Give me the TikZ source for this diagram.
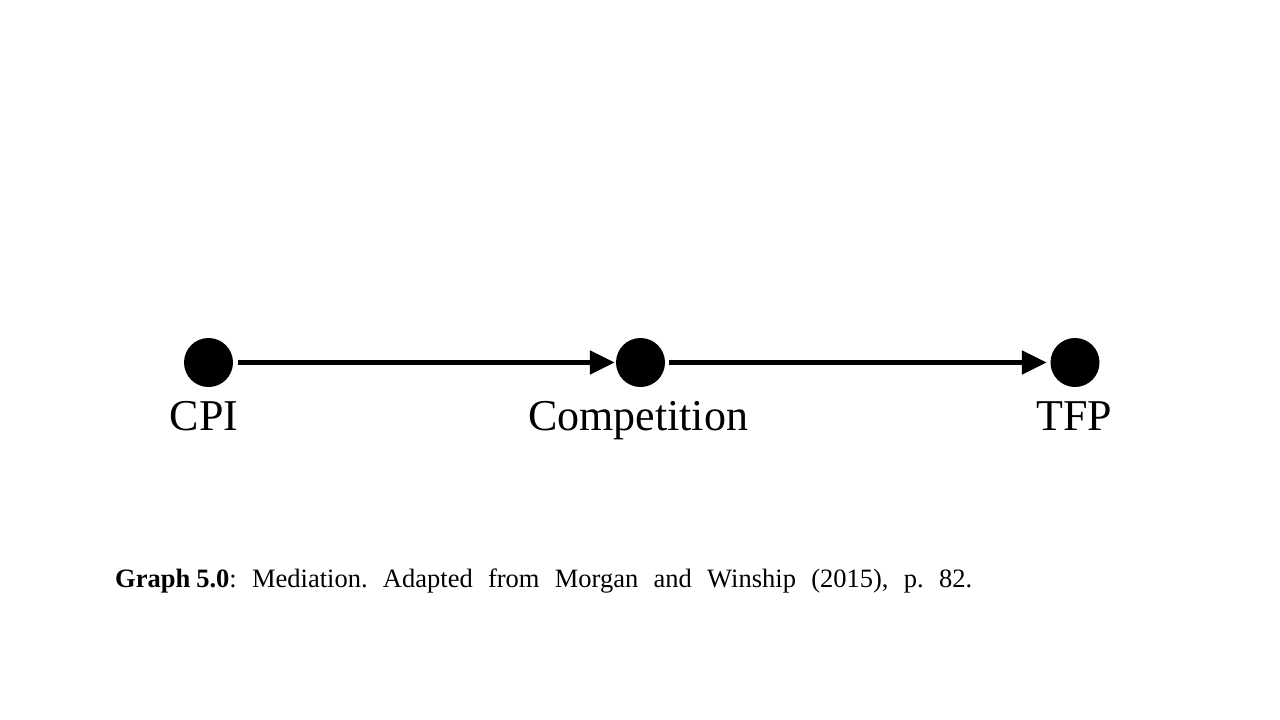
\documentclass[tikz,border=0pt]{standalone}
\usepackage{fontspec}
\setmainfont{Liberation Serif}
\usetikzlibrary{arrows.meta}
\begin{document}
\frenchspacing
\begin{tikzpicture}[x=1pt,y=-1pt,
  dot/.style={circle,fill=black,inner sep=0pt,minimum size=49pt},
  lbl/.style={anchor=base,inner sep=0pt,font=\fontsize{44}{48}\selectfont},
  arr/.style={line width=5pt,-{Triangle[length=25pt,width=23pt]}}]
\useasboundingbox[fill=white] (0,0) rectangle (1280,720);
\node[dot] (c1) at (208.5,362.5) {};
\node[dot] (c2) at (640.5,362.5) {};
\node[dot] (c3) at (1075,362.5) {};
\draw[arr,shorten <=5pt,shorten >=1pt] (c1) -- (c2);
\draw[arr,shorten <=4pt,shorten >=3.5pt] (c2) -- (c3);
\node[lbl] (l1) at (204,430) {CPI};
\node[lbl] (l2) at (638,430) {Competition};
\node[lbl] (l3) at (1074.5,430) {TFP};
\node[anchor=base west,inner sep=0pt,font=\fontsize{26.5}{30}\selectfont] (cap) at (115,587)
  {\makebox[857pt][s]{\textbf{Graph}\hspace{6pt}\textbf{5.0}: Mediation. Adapted from Morgan and Winship (2015), p.\ 82.}};
\end{tikzpicture}
\end{document}
